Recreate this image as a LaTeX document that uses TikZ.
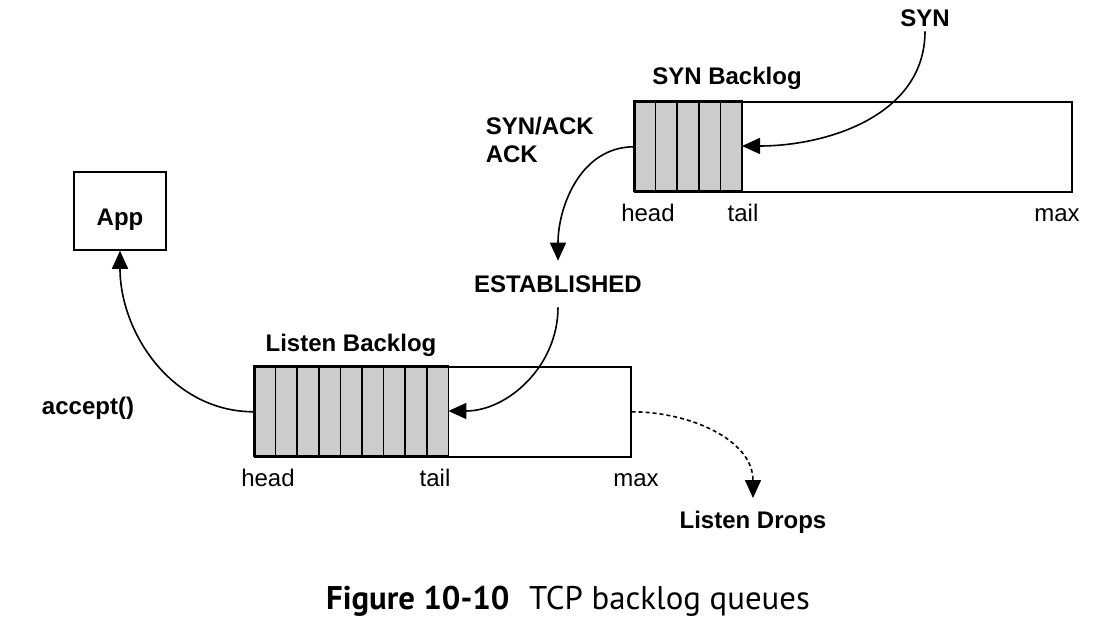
\documentclass[tikz,border=0pt]{standalone}
\usepackage{fontspec}
\setmainfont{Liberation Sans}
\newfontfamily\capfont{PT Sans}
\usepackage{tikz}
\usetikzlibrary{positioning}
\usetikzlibrary{shapes,arrows,calc,arrows.meta}

\begin{document}
\begin{tikzpicture}[x=0.5pt,y=-0.5pt,line width=0.8pt,
   >={Triangle[length=9pt,width=8pt]},
   lbl/.style={font=\bfseries\fontsize{12}{14}\selectfont,inner sep=2pt},
   poslbl/.style={font=\fontsize{12}{14}\selectfont,inner sep=0pt,anchor=base},
   queue/.style={draw,anchor=north west,minimum height=45pt,inner sep=0pt},
   cell/.style={draw,fill=black!20}]
   \useasboundingbox (0,0) rectangle (1100,624);
   % SYN backlog
   \foreach \i in {0,...,4}
      \draw[cell] (634+\i*21.6,101) rectangle ++(21.6,90);
   \node[queue,minimum width=218.5pt] (synq) at (634,101) {};
   \coordinate (syntail) at (742,146);
   \node[lbl] (synbl) at (727,78) {SYN Backlog};
   \node[poslbl] (synhead) at (648,222) {head};
   \node[poslbl] (syntl) at (743,222) {tail};
   \node[poslbl] (synmax) at (1057,222) {max};
   \node[lbl] (syn) at (925,18) {SYN};
   \node[lbl,align=left,anchor=west] (synack) at (481,140) {SYN/ACK\\ACK};
   \node[lbl,inner sep=7pt] (est) at (558,284) {ESTABLISHED};
   % listen backlog
   \foreach \i in {0,...,8}
      \draw[cell] (254+\i*21.6,366) rectangle ++(21.6,90);
   \node[queue,minimum width=188pt] (lstq) at (254,366) {};
   \coordinate (lsttail) at (448.4,411);
   \node[lbl] (lstbl) at (351,345) {Listen Backlog};
   \node[poslbl] (lsthead) at (268,487) {head};
   \node[poslbl] (lsttl) at (435,487) {tail};
   \node[poslbl] (lstmax) at (636,487) {max};
   \node[lbl] (accept) at (88,408) {accept()};
   \node[draw,lbl,minimum width=46pt,minimum height=39pt,text height=15pt,text depth=0pt] (app) at (120,211) {App};
   \node[lbl,inner sep=6pt] (drops) at (753,522) {Listen Drops};
   \path[->]
    (syn) edge [out=-90,in=0] (syntail)
    (synq.west) edge [out=180,in=90] (est)
    (est) edge [out=-90,in=0] (lsttail)
    (lstq.west) edge [out=180,in=-90] (app)
    (lstq.east) edge [out=0,in=90,dash pattern=on 2pt off 1.5pt] (drops);
   \node[anchor=base] (caption) at (568,610) {\capfont\fontsize{16.4}{19}\selectfont
      \textbf{Figure 10-10}\hspace{0.6em}TCP backlog queues};
\end{tikzpicture}
\end{document}
